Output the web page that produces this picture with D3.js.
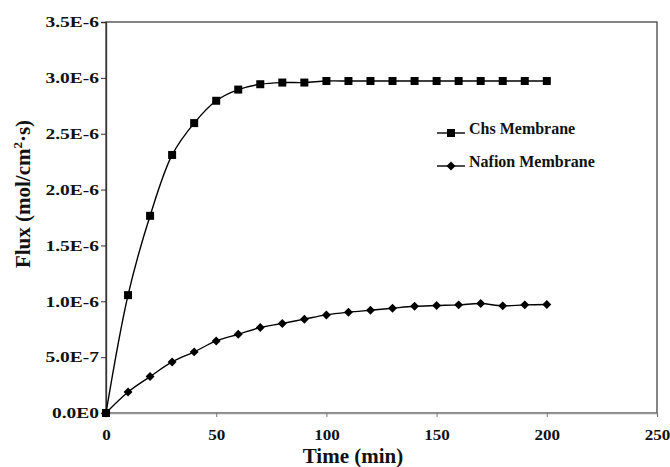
<!DOCTYPE html>
<html>
<head>
<meta charset="utf-8">
<script src="https://cdn.jsdelivr.net/npm/d3@7/dist/d3.min.js"></script>
<style>
  html, body { margin: 0; padding: 0; background: #fff; }
  svg { display: block; }
  text { font-family: "Liberation Serif", "Times New Roman", serif; font-weight: bold; fill: #111; }
</style>
</head>
<body>
<svg id="chart" width="670" height="467"></svg>
<script>
// Time points (min)
const times = [0, 10, 20, 30, 40, 50, 60, 70, 80, 90, 100, 110, 120, 130, 140, 150, 160, 170, 180, 190, 200];
// Flux values (mol/cm²·s)
const chsFlux = [0, 1.055e-6, 1.765e-6, 2.31e-6, 2.595e-6, 2.795e-6, 2.895e-6, 2.943e-6, 2.958e-6, 2.958e-6,
                 2.972e-6, 2.972e-6, 2.972e-6, 2.972e-6, 2.972e-6, 2.972e-6, 2.972e-6, 2.972e-6, 2.972e-6, 2.972e-6, 2.972e-6];
const nafionFlux = [0, 0.188e-6, 0.326e-6, 0.457e-6, 0.547e-6, 0.645e-6, 0.705e-6, 0.765e-6, 0.801e-6, 0.840e-6,
                    0.878e-6, 0.902e-6, 0.920e-6, 0.938e-6, 0.955e-6, 0.962e-6, 0.968e-6, 0.980e-6, 0.959e-6, 0.968e-6, 0.971e-6];
const seriesNames = ["Chs Membrane", "Nafion Membrane"];
const xTicks = [0, 50, 100, 150, 200, 250];
const yTicks = [0, 0.5e-6, 1.0e-6, 1.5e-6, 2.0e-6, 2.5e-6, 3.0e-6, 3.5e-6];
const yTickLabels = ["0.0E0", "5.0E-7", "1.0E-6", "1.5E-6", "2.0E-6", "2.5E-6", "3.0E-6", "3.5E-6"];

const svg = d3.select("#chart");
const margin = { left: 106, right: 13, top: 22, bottom: 54 };
const W = 670, H = 467;
const x = d3.scaleLinear().domain([0, 250]).range([margin.left, W - margin.right]);
const y = d3.scaleLinear().domain([0, 3.5e-6]).range([H - margin.bottom, margin.top]);

// Plot frame
svg.append("rect")
  .attr("x", x(0)).attr("y", y(3.5e-6))
  .attr("width", x(250) - x(0)).attr("height", y(0) - y(3.5e-6))
  .attr("fill", "none").attr("stroke", "#444").attr("stroke-width", 1.3);

// X axis
const xAxis = svg.append("g")
  .attr("transform", `translate(0,${y(0)})`)
  .call(d3.axisBottom(x).tickValues(xTicks).tickSize(4).tickPadding(12).tickFormat(d3.format("d")));
xAxis.select(".domain").attr("stroke", "#999").attr("stroke-width", 1.3);
xAxis.selectAll(".tick line").attr("stroke", "#777");
xAxis.selectAll(".tick text")
  .attr("font-size", 15.5).attr("font-family", "Liberation Serif").attr("font-weight", "bold")
  .attr("fill", "#111")
  .attr("transform", "scale(1.1,1)");

// Y axis
const yAxis = svg.append("g")
  .attr("transform", `translate(${x(0)},0)`)
  .call(d3.axisLeft(y).tickValues(yTicks).tickSize(5)
    .tickFormat((d, i) => yTickLabels[i]));
yAxis.select(".domain").attr("stroke", "#333").attr("stroke-width", 1.3);
yAxis.selectAll(".tick line").attr("stroke", "#333");
yAxis.selectAll(".tick text")
  .attr("x", -5.4)
  .attr("font-size", 15).attr("font-family", "Liberation Serif").attr("font-weight", "bold")
  .attr("fill", "#111")
  .attr("transform", "scale(1.3,1)");

// Axis titles
svg.append("text")
  .attr("x", 353).attr("y", 463)
  .attr("text-anchor", "middle").attr("font-size", 21)
  .text("Time (min)");

const yTitle = svg.append("text")
  .attr("transform", `translate(30,194) rotate(-90)`)
  .attr("text-anchor", "middle").attr("font-size", 21);
yTitle.append("tspan").text("Flux (mol/cm");
yTitle.append("tspan").attr("font-size", 13).attr("dy", -8).text("2");
yTitle.append("tspan").attr("dy", 8).text("·s)");

// Series
const line = d3.line().x(d => x(d[0])).y(d => y(d[1])).curve(d3.curveCatmullRom.alpha(0.5));
const chsData = times.map((t, i) => [t, chsFlux[i]]);
const nafData = times.map((t, i) => [t, nafionFlux[i]]);

svg.append("path").datum(chsData).attr("d", line)
  .attr("fill", "none").attr("stroke", "#000").attr("stroke-width", 1.4);
svg.append("path").datum(nafData).attr("d", line)
  .attr("fill", "none").attr("stroke", "#000").attr("stroke-width", 1.4);

// Markers: filled square and a square turned 45° for the diamond
const square = d3.symbol().type(d3.symbolSquare).size(64);
const diamond = d3.symbol().type(d3.symbolSquare).size(40);

svg.append("g").selectAll("path").data(chsData).join("path")
  .attr("d", square).attr("transform", d => `translate(${x(d[0])},${y(d[1])})`).attr("fill", "#000");
svg.append("g").selectAll("path").data(nafData).join("path")
  .attr("d", diamond).attr("transform", d => `translate(${x(d[0])},${y(d[1])}) rotate(45)`).attr("fill", "#000");

// Legend
const legend = svg.append("g").attr("transform", "translate(437,0)");
const legendRows = [
  { name: seriesNames[0], sym: square, rot: 0, yPos: 133 },
  { name: seriesNames[1], sym: diamond, rot: 45, yPos: 166 }
];
legendRows.forEach(r => {
  legend.append("line").attr("x1", 0).attr("x2", 28).attr("y1", r.yPos).attr("y2", r.yPos)
    .attr("stroke", "#000").attr("stroke-width", 1.4);
  legend.append("path").attr("d", r.sym).attr("transform", `translate(14,${r.yPos}) rotate(${r.rot})`).attr("fill", "#000");
  legend.append("text").attr("x", 32).attr("y", r.yPos + 1).attr("font-size", 16).text(r.name);
});
</script>
</body>
</html>
